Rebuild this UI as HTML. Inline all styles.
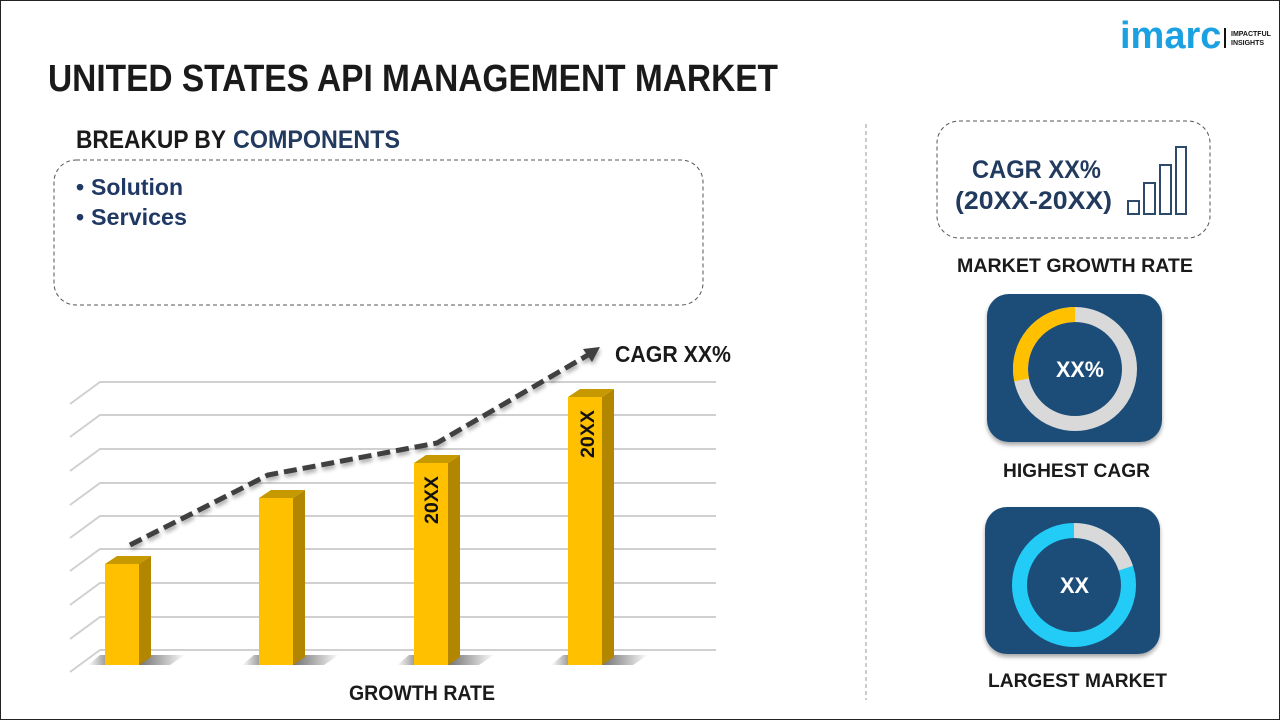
<!DOCTYPE html>
<html><head><meta charset="utf-8"><style>
html,body{margin:0;padding:0;background:#fff;}
svg{display:block;}
text{font-family:"Liberation Sans",Arial,sans-serif;font-weight:bold;}
</style></head><body>
<svg width="1280" height="720" viewBox="0 0 1280 720" xmlns="http://www.w3.org/2000/svg">
<defs>
  <filter id="ds" x="-20%" y="-20%" width="140%" height="160%">
    <feGaussianBlur in="SourceAlpha" stdDeviation="2"/>
    <feOffset dx="1" dy="3" result="b"/>
    <feComponentTransfer><feFuncA type="linear" slope="0.35"/></feComponentTransfer>
    <feMerge><feMergeNode/><feMergeNode in="SourceGraphic"/></feMerge>
  </filter>
  <filter id="ps" x="-10%" y="-10%" width="120%" height="125%">
    <feGaussianBlur in="SourceAlpha" stdDeviation="2"/>
    <feOffset dx="0" dy="3"/>
    <feComponentTransfer><feFuncA type="linear" slope="0.35"/></feComponentTransfer>
    <feMerge><feMergeNode/><feMergeNode in="SourceGraphic"/></feMerge>
  </filter>
  <linearGradient id="sh" x1="0" y1="0" x2="1" y2="0">
    <stop offset="0" stop-color="#000" stop-opacity="0"/>
    <stop offset="0.35" stop-color="#000" stop-opacity="0.75"/>
    <stop offset="0.55" stop-color="#222" stop-opacity="0.6"/>
    <stop offset="1" stop-color="#000" stop-opacity="0"/>
  </linearGradient>
</defs>
<rect x="0.5" y="0.5" width="1279" height="719" fill="#fff" stroke="#222" stroke-width="1"/>

<!-- logo -->
<text x="1120" y="48" font-size="38" fill="#1ba1e2">imarc</text>
<rect x="1224" y="28" width="2" height="20" fill="#111"/>
<text x="1231" y="36" font-size="7" fill="#111">IMPACTFUL</text>
<text x="1231" y="45" font-size="7" fill="#111">INSIGHTS</text>

<!-- title -->
<text x="48" y="91" font-size="38" fill="#1a1a1a" textLength="730" lengthAdjust="spacingAndGlyphs">UNITED STATES API MANAGEMENT MARKET</text>

<text x="76" y="148" font-size="25" fill="#1a1a1a" textLength="150" lengthAdjust="spacingAndGlyphs">BREAKUP BY</text>
<text x="233" y="148" font-size="25" fill="#213a5e" textLength="167" lengthAdjust="spacingAndGlyphs">COMPONENTS</text>

<rect x="54" y="160" width="649" height="145" rx="22" ry="22" fill="none" stroke="#555" stroke-width="1" stroke-dasharray="4 3"/>
<text x="76" y="195" font-size="23" fill="#1f3864">•</text>
<text x="91" y="195" font-size="23" fill="#1f3864" textLength="92" lengthAdjust="spacingAndGlyphs">Solution</text>
<text x="76" y="225" font-size="23" fill="#1f3864">•</text>
<text x="91" y="225" font-size="23" fill="#1f3864" textLength="96" lengthAdjust="spacingAndGlyphs">Services</text>

<!-- grid -->
<g stroke="#d0d0d0" stroke-width="2" fill="none">
  <path d="M70 404 L100 382 H716"/>
  <path d="M70 437 L100 415 H716"/>
  <path d="M70 471 L100 449 H716"/>
  <path d="M70 505 L100 483 H716"/>
  <path d="M70 538 L100 516 H716"/>
  <path d="M70 571 L100 549 H716"/>
  <path d="M70 605 L100 583 H716"/>
  <path d="M70 639 L100 617 H716"/>
  <path d="M70 672 L100 650 H716"/>
</g>

<!-- bar shadows -->
<polygon points="88,665 100,655 185,655 170,665" fill="url(#sh)"/>
<polygon points="242,665 254,655 339,655 324,665" fill="url(#sh)"/>
<polygon points="397,665 409,655 494,655 479,665" fill="url(#sh)"/>
<polygon points="551,665 563,655 648,655 633,665" fill="url(#sh)"/>

<!-- bars -->
<g>
  <polygon points="139,564 151,556 151,657 139,665" fill="#b38600"/>
  <polygon points="105,564 117,556 151,556 139,564" fill="#c79900"/>
  <rect x="105" y="564" width="34" height="101" fill="#ffc000"/>

  <polygon points="293,498 305,490 305,657 293,665" fill="#b38600"/>
  <polygon points="259,498 271,490 305,490 293,498" fill="#c79900"/>
  <rect x="259" y="498" width="34" height="167" fill="#ffc000"/>

  <polygon points="448,463 460,455 460,657 448,665" fill="#b38600"/>
  <polygon points="414,463 426,455 460,455 448,463" fill="#c79900"/>
  <rect x="414" y="463" width="34" height="202" fill="#ffc000"/>

  <polygon points="602,397 614,389 614,657 602,665" fill="#b38600"/>
  <polygon points="568,397 580,389 614,389 602,397" fill="#c79900"/>
  <rect x="568" y="397" width="34" height="268" fill="#ffc000"/>
</g>
<text transform="translate(438,500) rotate(-90)" text-anchor="middle" font-size="19" fill="#111" textLength="48" lengthAdjust="spacingAndGlyphs">20XX</text>
<text transform="translate(594,434) rotate(-90)" text-anchor="middle" font-size="19" fill="#111" textLength="48" lengthAdjust="spacingAndGlyphs">20XX</text>

<!-- trend line -->
<g filter="url(#ds)">
  <path d="M130 545 L268 475 L437 443 L588 355" fill="none" stroke="#404040" stroke-width="5" stroke-dasharray="13 6"/>
  <polygon points="600,347 583,349 592,362" fill="#404040"/>
</g>
<text x="615" y="362" font-size="23" fill="#1a1a1a" textLength="116" lengthAdjust="spacingAndGlyphs">CAGR XX%</text>
<text x="349" y="700" font-size="21" fill="#1a1a1a" textLength="146" lengthAdjust="spacingAndGlyphs">GROWTH RATE</text>

<!-- divider -->
<line x1="866" y1="124" x2="866" y2="700" stroke="#9a9a9a" stroke-width="1" stroke-dasharray="4 3"/>

<!-- market growth box -->
<rect x="937" y="121" width="273" height="117" rx="22" ry="22" fill="none" stroke="#555" stroke-width="1" stroke-dasharray="4 3"/>
<text x="972" y="178" font-size="25" fill="#213a5e" textLength="129" lengthAdjust="spacingAndGlyphs">CAGR XX%</text>
<text x="955" y="209" font-size="25" fill="#213a5e" textLength="157" lengthAdjust="spacingAndGlyphs">(20XX-20XX)</text>
<g fill="none" stroke="#2d4a6b" stroke-width="2">
  <rect x="1128" y="201" width="11" height="13"/>
  <rect x="1144" y="183" width="11" height="31"/>
  <rect x="1160" y="165" width="11" height="49"/>
  <rect x="1176" y="147" width="10" height="67"/>
</g>
<text x="957" y="272" font-size="19" fill="#1a1a1a" textLength="236" lengthAdjust="spacingAndGlyphs">MARKET GROWTH RATE</text>

<!-- highest cagr panel -->
<rect x="987" y="294" width="175" height="148" rx="22" ry="22" fill="#1f4e79" filter="url(#ps)"/>
<circle cx="1075" cy="369" r="54.5" fill="none" stroke="#d9d9d9" stroke-width="15"/>
<path d="M1021.6 379.9 A54.5 54.5 0 0 1 1075 314.5" fill="none" stroke="#ffc000" stroke-width="15"/>
<text x="1056" y="377" font-size="22" fill="#fff" textLength="48" lengthAdjust="spacingAndGlyphs">XX%</text>
<text x="1003" y="477" font-size="19" fill="#1a1a1a" textLength="147" lengthAdjust="spacingAndGlyphs">HIGHEST CAGR</text>

<!-- largest market panel -->
<rect x="985" y="507" width="175" height="147" rx="22" ry="22" fill="#1f4e79" filter="url(#ps)"/>
<circle cx="1074" cy="585" r="54.5" fill="none" stroke="#22ccf6" stroke-width="15"/>
<path d="M1074 530.5 A54.5 54.5 0 0 1 1125.8 568.2" fill="none" stroke="#d9d9d9" stroke-width="15"/>
<text x="1060" y="593" font-size="22" fill="#fff" textLength="29" lengthAdjust="spacingAndGlyphs">XX</text>
<text x="988" y="687" font-size="19" fill="#1a1a1a" textLength="179" lengthAdjust="spacingAndGlyphs">LARGEST MARKET</text>
</svg>
</body></html>
